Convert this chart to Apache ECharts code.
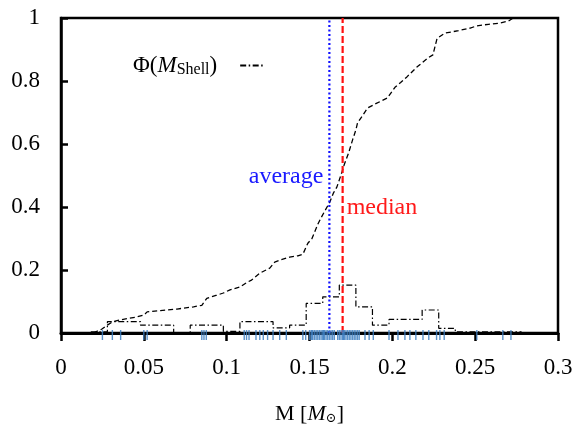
<!DOCTYPE html>
<html>
<head>
<meta charset="utf-8">
<script src="https://cdn.jsdelivr.net/npm/echarts/dist/echarts.min.js"></script>
<style>
  html, body { margin: 0; padding: 0; background: #fff; }
  #main { width: 586px; height: 426px; }
</style>
</head>
<body>
<div id="main"></div>
<script>
// 累积分布 Φ(M_Shell) : [M, Φ]
var cdfPoints = [
  [0.0195, 0.000], [0.0205, 0.003], [0.0245, 0.012], [0.028, 0.025], [0.031, 0.035],
  [0.036, 0.042], [0.045, 0.050], [0.050, 0.057], [0.052, 0.067], [0.060, 0.071],
  [0.070, 0.076], [0.080, 0.083], [0.085, 0.088], [0.088, 0.110], [0.094, 0.120],
  [0.098, 0.127], [0.102, 0.137], [0.108, 0.146], [0.112, 0.160], [0.115, 0.168],
  [0.120, 0.190], [0.126, 0.206], [0.129, 0.225], [0.133, 0.233], [0.138, 0.241],
  [0.143, 0.245], [0.146, 0.250], [0.149, 0.285], [0.1515, 0.300], [0.155, 0.345],
  [0.1563, 0.359], [0.159, 0.385], [0.1623, 0.416], [0.1645, 0.445], [0.1665, 0.463],
  [0.168, 0.486], [0.1696, 0.511], [0.171, 0.535], [0.1735, 0.570], [0.176, 0.613],
  [0.178, 0.645], [0.179, 0.667], [0.182, 0.690], [0.185, 0.714], [0.190, 0.728],
  [0.197, 0.746], [0.2016, 0.780], [0.205, 0.795], [0.2088, 0.813], [0.215, 0.845],
  [0.2215, 0.873], [0.2245, 0.883], [0.227, 0.935], [0.2317, 0.952], [0.240, 0.960],
  [0.247, 0.968], [0.251, 0.975], [0.258, 0.980], [0.265, 0.984], [0.270, 0.990],
  [0.273, 1.000]
];

// 直方图：左边界 + 每个箱的高度 (箱宽 0.01)
var binStart = 0.018;
var binWidth = 0.01;
var binHeights = [
  0.004, 0.036, 0.036, 0.025, 0.025, 0.000, 0.025, 0.025, 0.005, 0.036,
  0.036, 0.016, 0.025, 0.094, 0.115, 0.152, 0.083, 0.025, 0.043, 0.043,
  0.073, 0.015, 0.004, 0.004, 0.004, 0.004
];

// 各个样本的质量 (地毯图)
var rugMasses = [
  0.025, 0.031, 0.036, 0.050, 0.052,
  0.085, 0.0863, 0.0877,
  0.1106, 0.112, 0.1135, 0.1177, 0.120, 0.1221, 0.1247, 0.128, 0.132, 0.136, 0.146, 0.1477,
  0.150, 0.151, 0.1515, 0.152, 0.153, 0.154, 0.155, 0.156, 0.157, 0.158, 0.1585, 0.159,
  0.160, 0.161, 0.162, 0.163, 0.164, 0.165, 0.167, 0.168, 0.169, 0.170, 0.1705, 0.171,
  0.172, 0.173, 0.174, 0.175, 0.176, 0.177, 0.178, 0.179, 0.180,
  0.1835, 0.186, 0.1885, 0.198, 0.2034, 0.2076, 0.2106, 0.2142, 0.2185, 0.222,
  0.2267, 0.2287, 0.2313, 0.251, 0.2667, 0.2716
];

var avgMass = 0.162;
var medianMass = 0.170;

var serif = "'Liberation Serif', 'DejaVu Serif', serif";

// 直方图阶梯数据
var histData = [];
for (var i = 0; i < binHeights.length; i++) {
  histData.push([binStart + i * binWidth, binHeights[i]]);
}
histData.push([binStart + binHeights.length * binWidth, binHeights[binHeights.length - 1]]);

var rugData = rugMasses.map(function (m) { return [m, 0]; });

var chart = echarts.init(document.getElementById('main'));

var option = {
  animation: false,
  backgroundColor: '#fff',
  grid: {
    left: 61, right: 28, top: 18, bottom: 93,
    outerBoundsMode: 'none',
    containLabel: false,
    show: true, borderColor: '#000', borderWidth: 2.5
  },
  legend: {
    left: 128, top: 49,
    align: 'right',
    itemWidth: 24, itemHeight: 10,
    itemStyle: { opacity: 0 },
    data: ['hist'],
    formatter: function () {
      return '{a|Φ(}{i|M}{s|Shell}{a|)}';
    },
    textStyle: {
      padding: [0, 18, 0, 0],
      rich: {
        a: { fontFamily: serif, fontSize: 23, color: '#000' },
        i: { fontFamily: serif, fontSize: 23, fontStyle: 'italic', color: '#000' },
        s: { fontFamily: serif, fontSize: 16, color: '#000', padding: [9, 0, 0, 0] }
      }
    }
  },
  xAxis: {
    type: 'value',
    min: 0, max: 0.3, interval: 0.05,
    name: '{n|M [}{i|M}{s|⊙}{n|]}',
    nameLocation: 'middle',
    nameGap: 70,
    nameTextStyle: {
      rich: {
        n: { fontFamily: serif, fontSize: 22, color: '#000' },
        i: { fontFamily: serif, fontSize: 22, fontStyle: 'italic', color: '#000' },
        s: { fontFamily: serif, fontSize: 13, color: '#000', padding: [9, 0, 0, 0] }
      }
    },
    axisLine: { show: true, onZero: false, lineStyle: { color: '#000', width: 3 } },
    axisTick: { show: true, inside: false, length: 8, lineStyle: { color: '#000', width: 2.5 } },
    axisLabel: {
      margin: 23,
      fontFamily: serif, fontSize: 23, color: '#000',
      formatter: function (v) { return String(+v.toFixed(2)); }
    },
    splitLine: { show: false }
  },
  yAxis: {
    type: 'value',
    min: 0, max: 1, interval: 0.2,
    axisLine: { show: true, lineStyle: { color: '#000', width: 2.5 } },
    axisTick: { show: true, inside: true, length: 7, lineStyle: { color: '#000', width: 2.5 } },
    axisLabel: {
      margin: 21,
      fontFamily: serif, fontSize: 23, color: '#000',
      formatter: function (v) { return String(+v.toFixed(1)); }
    },
    splitLine: { show: false }
  },
  series: [
    {
      name: 'cdf',
      type: 'line',
      data: cdfPoints,
      showSymbol: false,
      symbol: 'none',
      lineStyle: { color: '#000', width: 1.3, type: [5, 3] },
      z: 3
    },
    {
      name: 'hist',
      type: 'line',
      step: 'end',
      data: histData,
      showSymbol: false,
      symbol: 'none',
      lineStyle: { color: '#000', width: 1.2, type: [6, 2.5, 1.5, 2.5] },
      itemStyle: { color: '#000' },
      z: 3
    },
    {
      name: 'average',
      type: 'line',
      data: [[avgMass, 0], [avgMass, 1]],
      symbol: 'none',
      lineStyle: { color: '#1010ff', width: 2.2, type: [2, 2.5] },
      markPoint: {
        symbol: 'circle', symbolSize: 0,
        data: [{ coord: [avgMass, 0.495] }],
        label: {
          show: true, position: 'left', distance: 6,
          formatter: 'average',
          fontFamily: serif, fontSize: 24, color: '#1a1aff'
        }
      },
      z: 4
    },
    {
      name: 'median',
      type: 'line',
      data: [[medianMass, 0], [medianMass, 1]],
      symbol: 'none',
      lineStyle: { color: '#ff1010', width: 2.2, type: [7, 3] },
      markPoint: {
        symbol: 'circle', symbolSize: 0,
        data: [{ coord: [medianMass, 0.397] }],
        label: {
          show: true, position: 'right', distance: 4,
          formatter: 'median',
          fontFamily: serif, fontSize: 24, color: '#ff1a1a'
        }
      },
      z: 4
    },
    {
      name: 'rug',
      type: 'scatter',
      data: rugData,
      symbol: 'rect',
      symbolSize: [1.4, 10],
      symbolOffset: [0, 2],
      clip: false,
      itemStyle: { color: '#3d7fc2', opacity: 0.85 },
      z: 5
    }
  ]
};

chart.setOption(option);
</script>
</body>
</html>
